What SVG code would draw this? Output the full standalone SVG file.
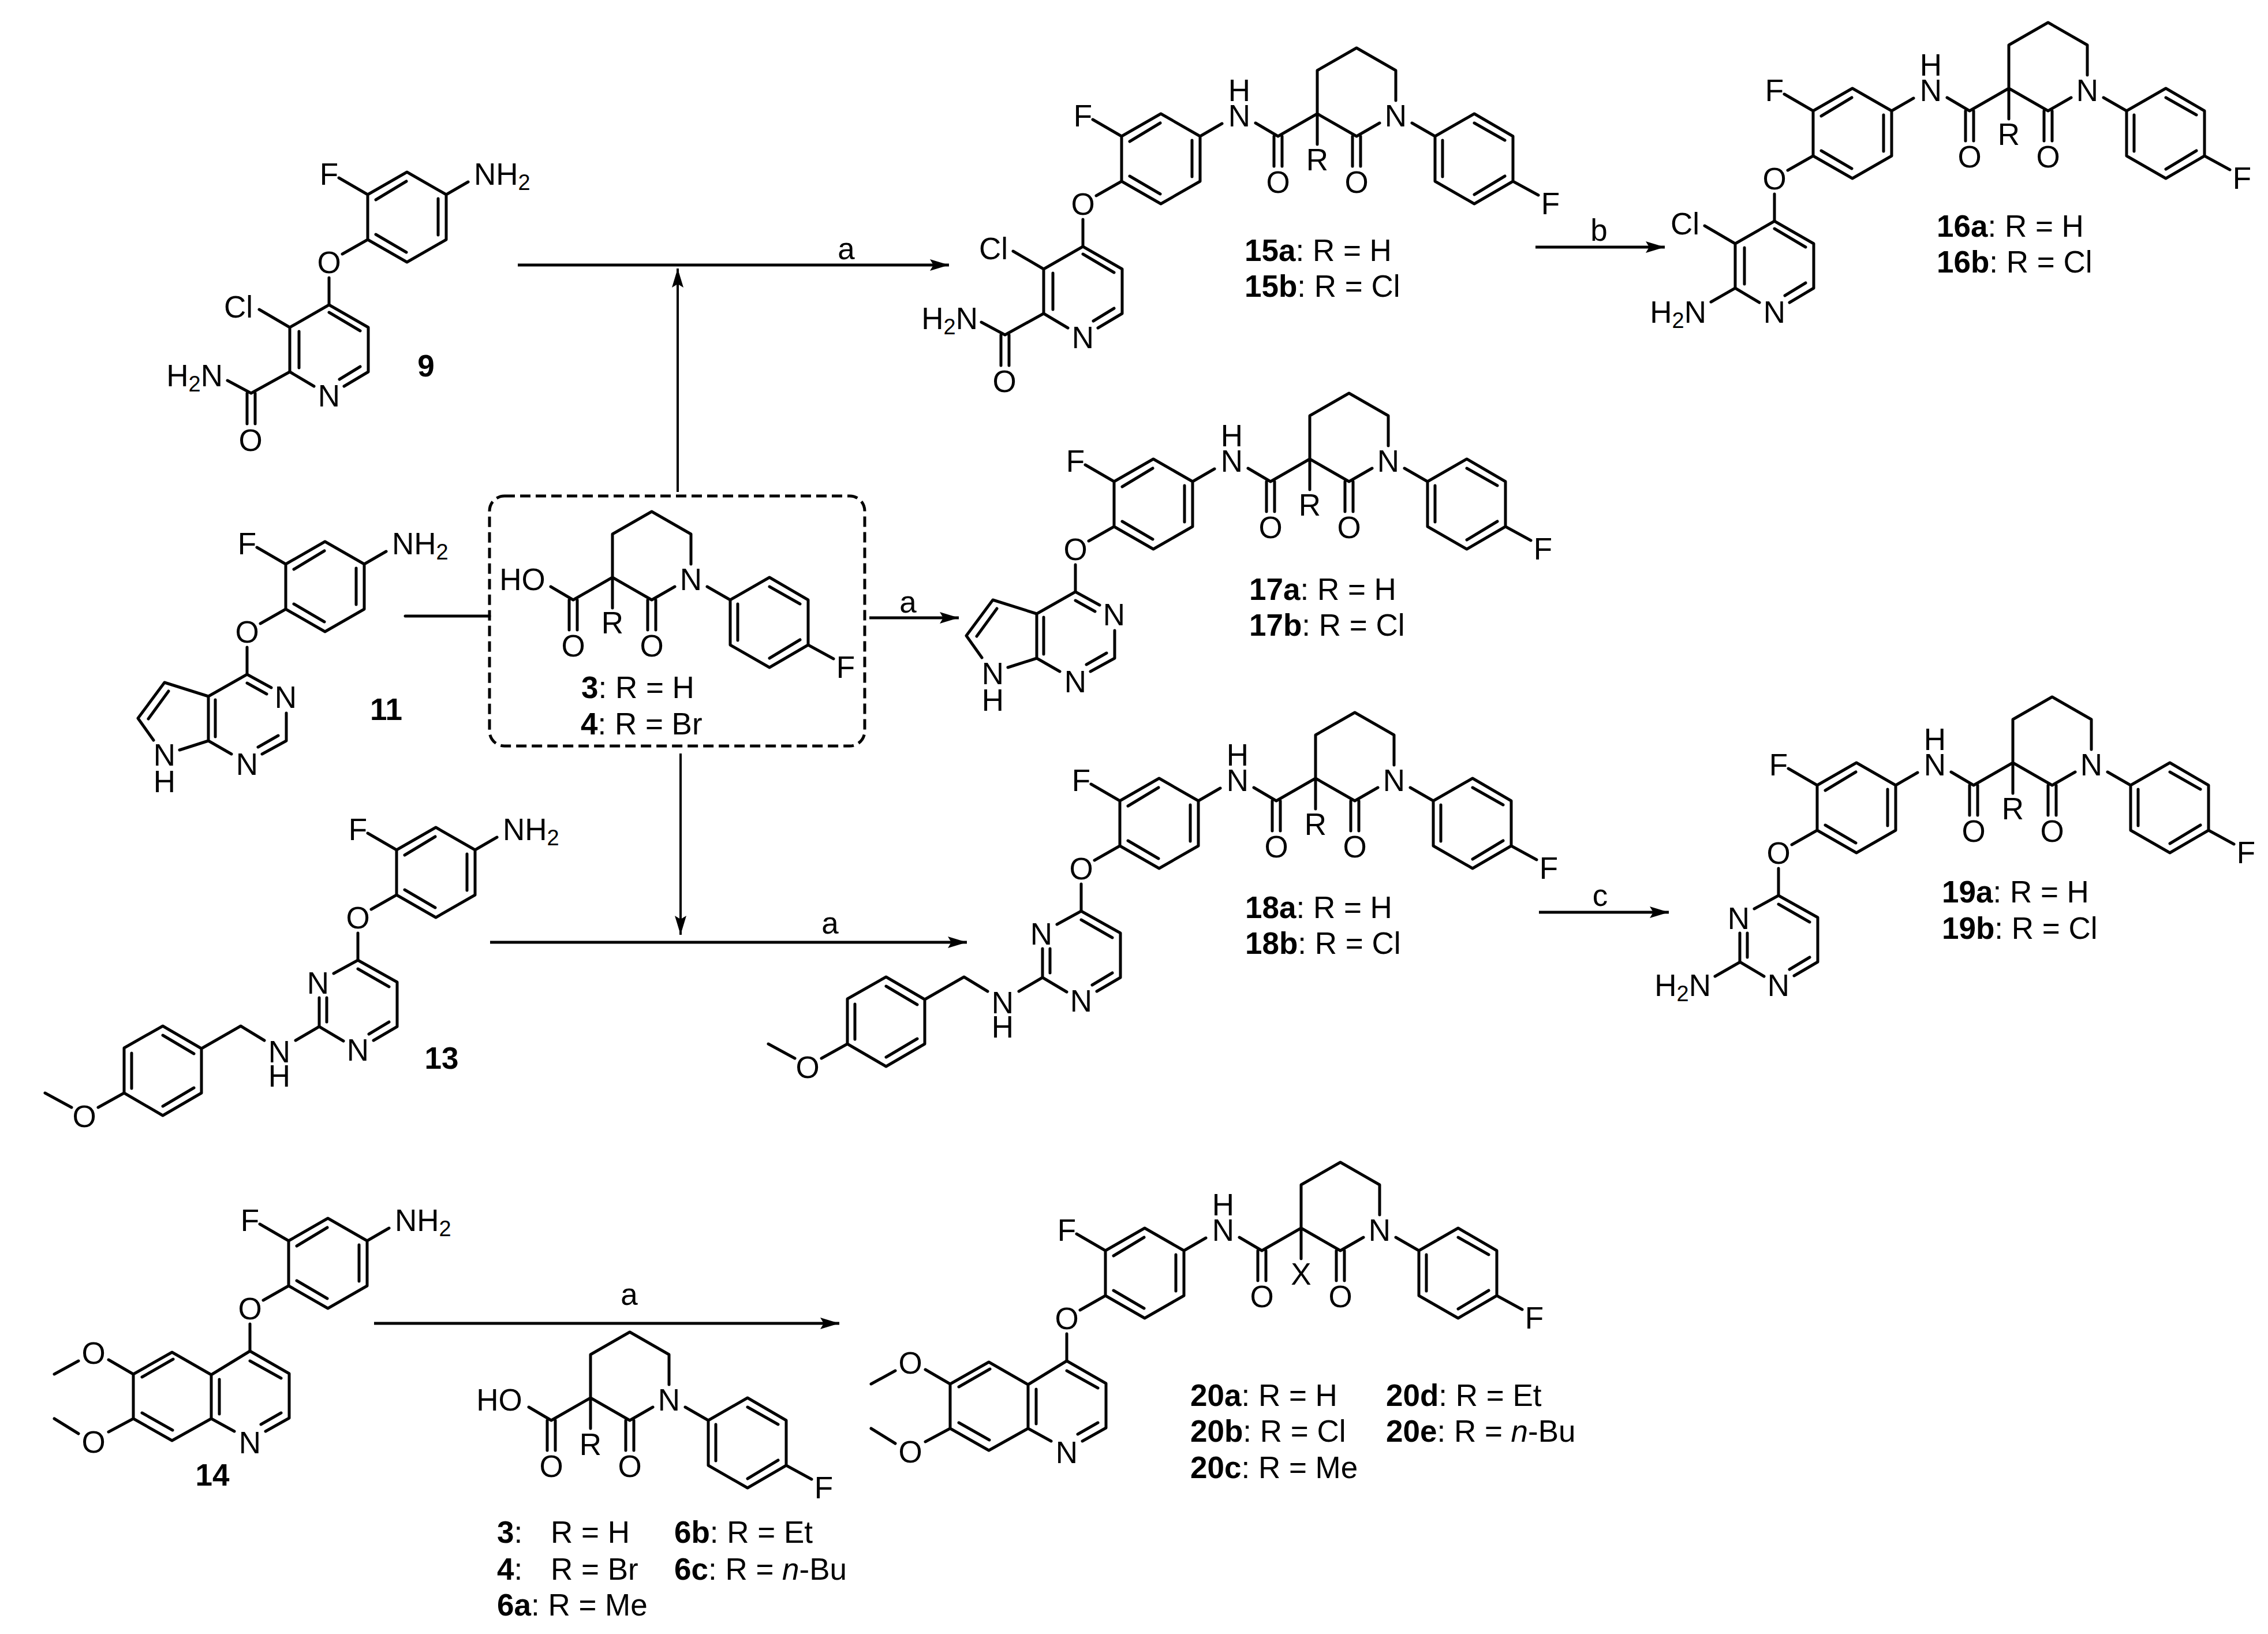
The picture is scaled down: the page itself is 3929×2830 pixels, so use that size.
<svg xmlns="http://www.w3.org/2000/svg" width="3929" height="2830" viewBox="0 0 3929 2830">
<style>
text{font-family:"Liberation Sans",Arial,sans-serif;font-size:53px;fill:#000}
.c{text-anchor:middle}
.e{text-anchor:end}
.b{font-weight:bold}
.s{font-size:38px}
.bond{fill:none;stroke:#000;stroke-width:5;stroke-linecap:round;stroke-linejoin:round}
.arrow{fill:none;stroke:#000;stroke-width:5}
.thin{fill:none;stroke:#000;stroke-width:4}
</style>
<defs>
<marker id="head" markerUnits="userSpaceOnUse" markerWidth="36" markerHeight="24" refX="33" refY="10" orient="auto"><path d="M0,0 L33,10 L0,20 L6,10 Z" fill="#000"/></marker>
<path id="aryl" class="bond" d="M0,0 V-78 L68,-117 L136,-78 V0 L68,39 Z M14,-69 L67,-101 M122,-71 V-8 M14,-9 L67,22 M0,-78 L-50,-107 M0,0 L-44,25 M-67,66 V113 M136,-78 L174,-100"/>
<path id="pip" class="bond" d="M-107,16 L-68,39 L0,0 V-75 L68,-114 L136,-75 V-23 M0,0 V53 M0,0 L68,39 L108,16 M-75,39 V91 M-61,39 V91 M61,39 V91 M75,39 V91 M204,39 L272,0 L339,39 V117 L272,156 L204,117 Z M164,16 L204,39 M339,117 L383,141 M272,16 L325,46 M217,46 V109 M272,140 L325,108"/>
<path id="pyr" class="bond" d="M-68,39 L0,0 L68,39 V116 L26,141 M-68,39 V116 L-26,141 M0,13 L54,45 M-52,46 V109 M54,107 L18,129 M-121,8 L-68,39"/>
<path id="carbox" class="bond" d="M-68,116 L-135,153 L-176,131 M-142,153 V206 M-128,153 V206"/>
<path id="amino" class="bond" d="M-68,116 L-110,140"/>
<path id="pyrim" class="bond" d="M-42,23 L0,0 L68,38 V115 L27,139 M-67,65 V115 L-25,140 M-54,65 V107 M0,15 L54,46 M54,107 L19,128"/>
<path id="pmb" class="bond" d="M-67,115 L-108,139 M-162,139 L-203,114 L-271,153 M-271,153 L-338,114 L-405,152 V230 L-338,269 L-271,230 Z M-338,130 L-284,162 M-392,161 V222 M-284,221 L-338,253 M-405,230 L-450,255 M-496,255 L-542,230"/>
<path id="pyrrolo" class="bond" d="M42,23 L0,0 L-67,38 V115 L-27,138 M0,15 L34,34 M-55,44 V108 M68,67 V115 L26,138 M54,106 L19,126 M-67,38 L-143,14 L-189,76 L-162,114 M-67,115 L-117,131 M-136,29 L-171,77"/>
<path id="quin" class="bond" d="M0,0 L68,39 V116 L27,139 M0,0 L-67,41 V117 L-27,139 M-67,41 L-135,2 L-202,40 V117 L-135,155 L-67,117 M0,17 L54,47 M54,107 L19,127 M-53,49 V109 M-133,14 L-187,45 M-187,107 L-134,137 M-202,40 L-245,15 M-297,17 L-339,40 M-202,117 L-245,140 M-297,143 L-339,117"/>
</defs>

<g id="connectors">
<path class="arrow" d="M897,459 H1644" marker-end="url(#head)"/>
<path class="thin" d="M1174,852 V465" marker-end="url(#head)"/>
<path class="arrow" d="M702,1067 H848" stroke-linecap="round"/>
<path class="arrow" d="M1506,1070 H1661" marker-end="url(#head)"/>
<path class="thin" d="M1179,1305 V1619" marker-end="url(#head)"/>
<path class="arrow" d="M849,1632 H1675" marker-end="url(#head)"/>
<path class="arrow" d="M2660,428 H2884" marker-end="url(#head)"/>
<path class="arrow" d="M2666,1580 H2891" marker-end="url(#head)"/>
<path class="arrow" d="M648,2292 H1454" marker-end="url(#head)"/>
<text class="c" x="1466" y="449">a</text>
<text class="c" x="1573" y="1061">a</text>
<text class="c" x="1438" y="1617">a</text>
<text class="c" x="2770" y="417">b</text>
<text class="c" x="2772" y="1569">c</text>
<text class="c" x="1090" y="2260">a</text>
</g>

<g id="c9" transform="translate(637,415)">
<use href="#aryl"/>
<text class="c" x="-67" y="-95">F</text><text x="184" y="-95">NH<tspan class="s" dy="9">2</tspan></text><text class="c" x="-67" y="58">O</text>
<g transform="translate(-67,113)"><use href="#pyr"/><use href="#carbox"/>
<text class="c" x="-157" y="22">Cl</text><text class="c" x="0" y="176">N</text><text class="e" x="-184" y="141">H<tspan class="s" dy="9">2</tspan><tspan dy="-9">N</tspan></text><text class="c" x="-136" y="253">O</text></g>
<text class="c b" x="101" y="237">9</text>
</g>

<g id="c11" transform="translate(495,1055)">
<use href="#aryl"/>
<text class="c" x="-67" y="-95">F</text><text x="184" y="-95">NH<tspan class="s" dy="9">2</tspan></text><text class="c" x="-67" y="58">O</text>
<g transform="translate(-67,113)"><use href="#pyrrolo"/>
<text class="c" x="67" y="58">N</text><text class="c" x="0" y="174">N</text><text class="c" x="-143" y="158">N</text><text class="c" x="-143" y="204">H</text></g>
<text class="c b" x="174" y="192">11</text>
</g>

<g id="c13" transform="translate(687,1550)">
<use href="#aryl"/>
<text class="c" x="-67" y="-95">F</text><text x="184" y="-95">NH<tspan class="s" dy="9">2</tspan></text><text class="c" x="-67" y="58">O</text>
<g transform="translate(-67,113)"><use href="#pyrim"/><use href="#pmb"/>
<text class="c" x="-69" y="58">N</text><text class="c" x="0" y="174">N</text><text class="c" x="-136" y="177">N</text><text class="c" x="-136" y="219">H</text><text class="c" x="-474" y="289">O</text></g>
<text class="c b" x="78" y="301">13</text>
</g>

<g id="c14" transform="translate(500,2227)">
<use href="#aryl"/>
<text class="c" x="-67" y="-95">F</text><text x="184" y="-95">NH<tspan class="s" dy="9">2</tspan></text><text class="c" x="-67" y="58">O</text>
<g transform="translate(-67,113)"><use href="#quin"/>
<text class="c" x="0" y="177">N</text><text class="c" x="-271" y="22">O</text><text class="c" x="-271" y="176">O</text></g>
<text class="c b" x="-132" y="346">14</text>
</g>

<g id="acid-box">
<rect x="848" y="859" width="650" height="433" rx="26" fill="none" stroke="#000" stroke-width="5" stroke-dasharray="18 9"/>
<g transform="translate(1061,1000)"><use href="#pip"/>
<text class="c" x="-156" y="22">HO</text><text class="c" x="-68" y="137">O</text><text class="c" x="68" y="137">O</text><text class="c" x="0" y="97">R</text><text class="c" x="136" y="22">N</text><text class="c" x="404" y="174">F</text></g>
<text x="1007" y="1209"><tspan class="b">3</tspan>: R = H</text>
<text x="1006" y="1272"><tspan class="b">4</tspan>: R = Br</text>
</g>

<g id="acid-bottom">
<g transform="translate(1023,2421)"><use href="#pip"/>
<text class="c" x="-158" y="22">HO</text><text class="c" x="-68" y="137">O</text><text class="c" x="68" y="137">O</text><text class="c" x="0" y="99">R</text><text class="c" x="136" y="22">N</text><text class="c" x="404" y="174">F</text></g>
<text x="861" y="2672"><tspan class="b">3</tspan>:</text><text x="954" y="2672">R = H</text>
<text x="861" y="2736"><tspan class="b">4</tspan>:</text><text x="954" y="2736">R = Br</text>
<text x="861" y="2798"><tspan class="b">6a</tspan>: R = Me</text>
<text x="1168" y="2672"><tspan class="b">6b</tspan>: R = Et</text>
<text x="1168" y="2736"><tspan class="b">6c</tspan>: R = <tspan font-style="italic">n</tspan>-Bu</text>
</g>

<g id="c15" transform="translate(1943,314)">
<use href="#aryl"/>
<text class="c" x="-67" y="-95">F</text><text class="c" x="204" y="-95">N</text><text class="c" x="204" y="-139">H</text><text class="c" x="-67" y="58">O</text>
<g transform="translate(339,-117)"><use href="#pip"/><text class="c" x="-68" y="137">O</text><text class="c" x="68" y="137">O</text><text class="c" x="0" y="98">R</text><text class="c" x="136" y="22">N</text><text class="c" x="404" y="174">F</text></g>
<g transform="translate(-67,113)"><use href="#pyr"/><use href="#carbox"/>
<text class="c" x="-155" y="22">Cl</text><text class="c" x="0" y="176">N</text><text class="e" x="-182" y="143">H<tspan class="s" dy="9">2</tspan><tspan dy="-9">N</tspan></text><text class="c" x="-136" y="252">O</text></g>
</g>
<g id="l15"><text x="2156" y="452"><tspan class="b">15a</tspan>: R = H</text><text x="2156" y="514"><tspan class="b">15b</tspan>: R = Cl</text></g>

<g id="c16" transform="translate(3141,270)">
<use href="#aryl"/>
<text class="c" x="-67" y="-95">F</text><text class="c" x="204" y="-95">N</text><text class="c" x="204" y="-139">H</text><text class="c" x="-67" y="58">O</text>
<g transform="translate(339,-117)"><use href="#pip"/><text class="c" x="-68" y="137">O</text><text class="c" x="68" y="137">O</text><text class="c" x="0" y="98">R</text><text class="c" x="136" y="22">N</text><text class="c" x="404" y="174">F</text></g>
<g transform="translate(-67,113)"><use href="#pyr"/><use href="#amino"/>
<text class="c" x="-155" y="23">Cl</text><text class="c" x="0" y="176">N</text><text class="e" x="-118" y="176">H<tspan class="s" dy="9">2</tspan><tspan dy="-9">N</tspan></text></g>
</g>
<g id="l16"><text x="3355" y="410"><tspan class="b">16a</tspan>: R = H</text><text x="3355" y="472"><tspan class="b">16b</tspan>: R = Cl</text></g>

<g id="c17" transform="translate(1930,912)">
<use href="#aryl"/>
<text class="c" x="-67" y="-95">F</text><text class="c" x="204" y="-95">N</text><text class="c" x="204" y="-139">H</text><text class="c" x="-67" y="58">O</text>
<g transform="translate(339,-117)"><use href="#pip"/><text class="c" x="-68" y="137">O</text><text class="c" x="68" y="137">O</text><text class="c" x="0" y="98">R</text><text class="c" x="136" y="22">N</text><text class="c" x="404" y="174">F</text></g>
<g transform="translate(-67,113)"><use href="#pyrrolo"/>
<text class="c" x="67" y="58">N</text><text class="c" x="0" y="174">N</text><text class="c" x="-143" y="160">N</text><text class="c" x="-143" y="206">H</text></g>
</g>
<g id="l17"><text x="2164" y="1039"><tspan class="b">17a</tspan>: R = H</text><text x="2164" y="1101"><tspan class="b">17b</tspan>: R = Cl</text></g>

<g id="c18" transform="translate(1940,1465)">
<use href="#aryl"/>
<text class="c" x="-67" y="-95">F</text><text class="c" x="204" y="-95">N</text><text class="c" x="204" y="-139">H</text><text class="c" x="-67" y="58">O</text>
<g transform="translate(339,-117)"><use href="#pip"/><text class="c" x="-68" y="137">O</text><text class="c" x="68" y="137">O</text><text class="c" x="0" y="98">R</text><text class="c" x="136" y="22">N</text><text class="c" x="404" y="174">F</text></g>
<g transform="translate(-67,113)"><use href="#pyrim"/><use href="#pmb"/>
<text class="c" x="-69" y="58">N</text><text class="c" x="0" y="174">N</text><text class="c" x="-136" y="177">N</text><text class="c" x="-136" y="219">H</text><text class="c" x="-474" y="289">O</text></g>
</g>
<g id="l18"><text x="2157" y="1590"><tspan class="b">18a</tspan>: R = H</text><text x="2157" y="1652"><tspan class="b">18b</tspan>: R = Cl</text></g>

<g id="c19" transform="translate(3148,1438)">
<use href="#aryl"/>
<text class="c" x="-67" y="-95">F</text><text class="c" x="204" y="-95">N</text><text class="c" x="204" y="-139">H</text><text class="c" x="-67" y="58">O</text>
<g transform="translate(339,-117)"><use href="#pip"/><text class="c" x="-68" y="137">O</text><text class="c" x="68" y="137">O</text><text class="c" x="0" y="98">R</text><text class="c" x="136" y="22">N</text><text class="c" x="404" y="174">F</text></g>
<g transform="translate(-67,113)"><use href="#pyrim"/><use href="#amino"/>
<text class="c" x="-69" y="58">N</text><text class="c" x="0" y="174">N</text><text class="e" x="-117" y="174">H<tspan class="s" dy="9">2</tspan><tspan dy="-9">N</tspan></text></g>
</g>
<g id="l19"><text x="3364" y="1563"><tspan class="b">19a</tspan>: R = H</text><text x="3364" y="1626"><tspan class="b">19b</tspan>: R = Cl</text></g>

<g id="c20" transform="translate(1915,2244)">
<use href="#aryl"/>
<text class="c" x="-67" y="-95">F</text><text class="c" x="204" y="-95">N</text><text class="c" x="204" y="-139">H</text><text class="c" x="-67" y="58">O</text>
<g transform="translate(339,-117)"><use href="#pip"/><text class="c" x="-68" y="137">O</text><text class="c" x="68" y="137">O</text><text class="c" x="0" y="98">X</text><text class="c" x="136" y="22">N</text><text class="c" x="404" y="174">F</text></g>
<g transform="translate(-67,113)"><use href="#quin"/>
<text class="c" x="0" y="177">N</text><text class="c" x="-271" y="22">O</text><text class="c" x="-271" y="176">O</text></g>
</g>
<g id="l20">
<text x="2062" y="2435"><tspan class="b">20a</tspan>: R = H</text>
<text x="2062" y="2497"><tspan class="b">20b</tspan>: R = Cl</text>
<text x="2062" y="2560"><tspan class="b">20c</tspan>: R = Me</text>
<text x="2401" y="2435"><tspan class="b">20d</tspan>: R = Et</text>
<text x="2401" y="2497"><tspan class="b">20e</tspan>: R = <tspan font-style="italic">n</tspan>-Bu</text>
</g>
</svg>
